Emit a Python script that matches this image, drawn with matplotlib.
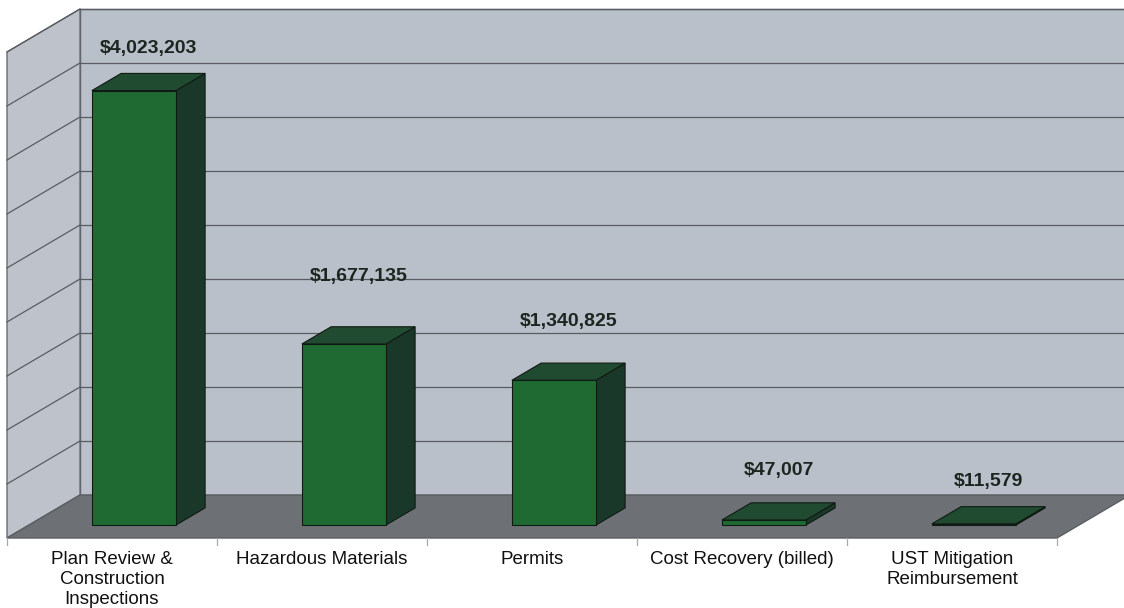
import matplotlib
matplotlib.use("Agg")
import matplotlib.pyplot as plt
from matplotlib.patches import Polygon

# ---- data ----
categories = ["Plan Review &\nConstruction\nInspections", "Hazardous Materials",
              "Permits", "Cost Recovery (billed)", "UST Mitigation\nReimbursement"]
values = [4023203, 1677135, 1340825, 47007, 11579]
value_labels = ["$4,023,203", "$1,677,135", "$1,340,825", "$47,007", "$11,579"]
grid_step = 500000
grid_max = 4500000

# ---- style ----
plt.rcParams['font.family'] = ['Liberation Sans', 'DejaVu Sans']
wall_col = "#bac0c9"
side_col = "#bec3cb"
floor_col = "#6d7175"
grid_col = "#595d61"
front_col = "#1f6a33"
side_bar_col = "#19382a"
top_bar_col = "#214b30"
edge_col = "#101a14"
label_offsets_px = [33, 59, 50, 41, 34]

px_per_unit_y = 54.0 / grid_step   # pixels per value unit
px_per_cat = 210.0
depth_px = (73.0, 43.0)            # oblique depth offset in pixels (right, up)
D = (depth_px[0] / px_per_cat, depth_px[1] / px_per_unit_y)

fig = plt.figure(figsize=(11.24, 6.08), dpi=100)
ax = fig.add_axes([0, 0, 1, 1])
x0 = (0 - 7) / px_per_cat - 0.5
x1 = (1124 - 7) / px_per_cat - 0.5
ax.set_xlim(x0, x1)
ax.set_ylim(-(608 - 538) / px_per_unit_y, 538 / px_per_unit_y)
ax.axis('off')


def P(x, v, d):
    return (x + d * D[0], v + d * D[1])


n = len(values)
xl, xr = -0.5, n - 0.5

# back wall
ax.add_patch(Polygon([P(xl, 0, 1), P(xr + 2, 0, 1), P(xr + 2, grid_max, 1), P(xl, grid_max, 1)],
                     closed=True, facecolor=wall_col, edgecolor="#55595d", lw=1.0, zorder=1))
# side wall
ax.add_patch(Polygon([P(xl, 0, 0), P(xl, 0, 1), P(xl, grid_max, 1), P(xl, grid_max, 0)],
                     closed=True, facecolor=side_col, edgecolor="#6a6e72", lw=1.0, zorder=1))
# gridlines
lv = grid_step
while lv < grid_max + 1:
    a, b = P(xl, lv, 1), P(xr + 2, lv, 1)
    ax.plot([a[0], b[0]], [a[1], b[1]], color=grid_col, lw=0.9, zorder=2)
    c, e = P(xl, lv, 0), P(xl, lv, 1)
    ax.plot([c[0], e[0]], [c[1], e[1]], color=grid_col, lw=0.9, zorder=2)
    lv += grid_step
# floor
ax.add_patch(Polygon([P(xl, 0, 0), P(xr, 0, 0), P(xr, 0, 1), P(xl, 0, 1)],
                     closed=True, facecolor=floor_col, edgecolor="#5a5e62", lw=1.0, zorder=3))
# category ticks
tick_len = 7 / px_per_unit_y
for i in range(n + 1):
    ax.plot([xl + i, xl + i], [0, -tick_len], color="#a5a9ad", lw=0.9, zorder=3)

# bars
hw = 0.2
d0, d1 = 0.3, 0.7
for i, v in enumerate(values):
    front = [P(i - hw, 0, d0), P(i + hw, 0, d0), P(i + hw, v, d0), P(i - hw, v, d0)]
    side = [P(i + hw, 0, d0), P(i + hw, 0, d1), P(i + hw, v, d1), P(i + hw, v, d0)]
    top = [P(i - hw, v, d0), P(i + hw, v, d0), P(i + hw, v, d1), P(i - hw, v, d1)]
    for poly, col in ((side, side_bar_col), (top, top_bar_col), (front, front_col)):
        ax.add_patch(Polygon(poly, closed=True, facecolor=col, edgecolor=edge_col,
                             lw=0.8, joinstyle='miter', zorder=4 + i * 0.01))
    anchor = P(i, v, 0.5)
    ax.annotate(value_labels[i], xy=anchor, xytext=(0, label_offsets_px[i] * 72 / 100),
                textcoords='offset points', ha='center', va='center',
                fontsize=14, fontweight='bold', color="#1c2620", zorder=6)

# category labels
for i, lab in enumerate(categories):
    ax.annotate(lab, xy=P(i, 0, 0), xytext=(0, -13 * 72 / 100), textcoords='offset points',
                ha='center', va='top', fontsize=13.5, color="#111111",
                linespacing=1.25, zorder=6)

fig.savefig("out.png", dpi=100, facecolor="white")
